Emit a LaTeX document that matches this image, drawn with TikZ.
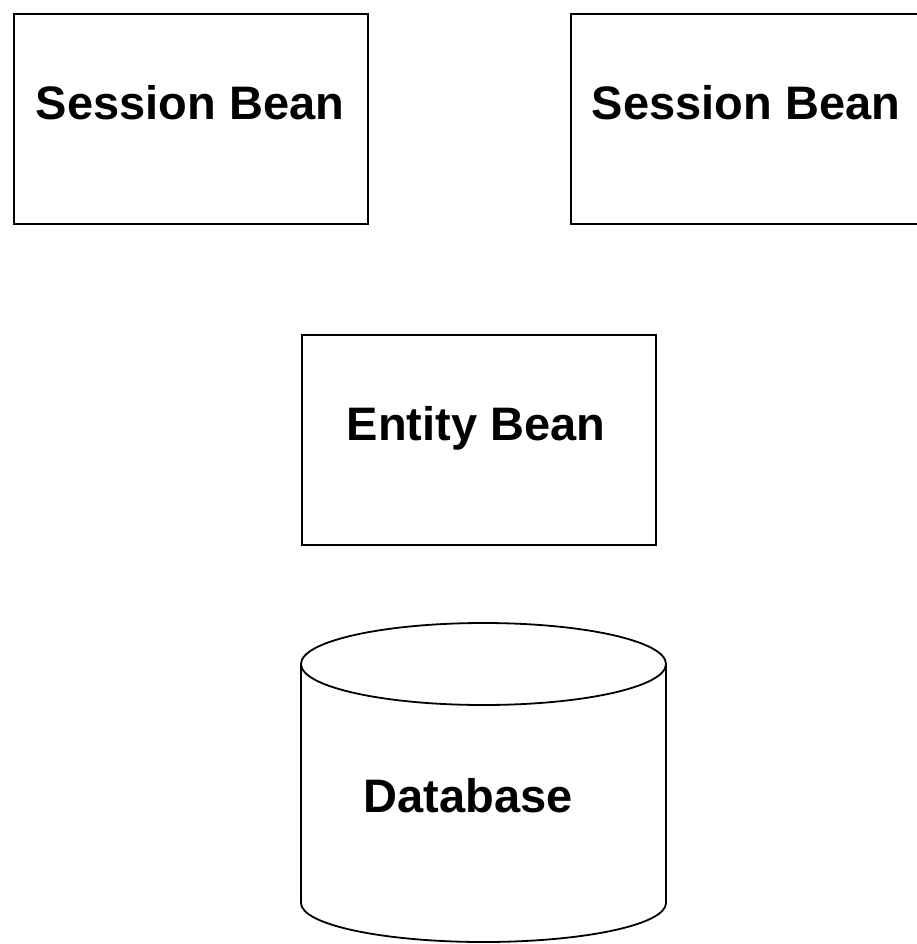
\documentclass[tikz,border=0pt]{standalone}
\usepackage{fontspec}
\setmainfont{Liberation Sans}
\begin{document}
\begin{tikzpicture}[x=1pt,y=-1pt,
  line width=1.8pt,
  bean/.style={draw=black, line width=1.8pt, rectangle, minimum width=354pt, minimum height=210pt, inner sep=0pt, anchor=north west},
  lbl/.style={font=\fontsize{47}{47}\selectfont\bfseries, anchor=base, inner sep=0pt}]
  \useasboundingbox (0,0) rectangle (917,944);
  \clip (0,0) rectangle (917,944);
  \fill[white] (0,0) rectangle (917,944);
  % session beans
  \node[bean] (s1) at (13,13) {};
  \node[lbl] (s1t) at (190,120) {Session Bean};
  \node[bean] (s2) at (570,13) {};
  \node[lbl] (s2t) at (746,120) {Session Bean};
  % entity bean
  \node[bean] (e) at (301,334) {};
  \node[lbl] (et) at (476,440) {Entity Bean};
  % database cylinder: top ellipse, sides and the lower front arc
  \coordinate (dbc) at (483.5,664);
  \draw (dbc) ellipse [x radius=182.5, y radius=41];
  \draw (301,664) -- (301,903) arc[start angle=180, end angle=0, x radius=182.5, y radius=39] -- (666,664);
  \node[lbl] (dbt) at (468,812) {Database};
\end{tikzpicture}
\end{document}
